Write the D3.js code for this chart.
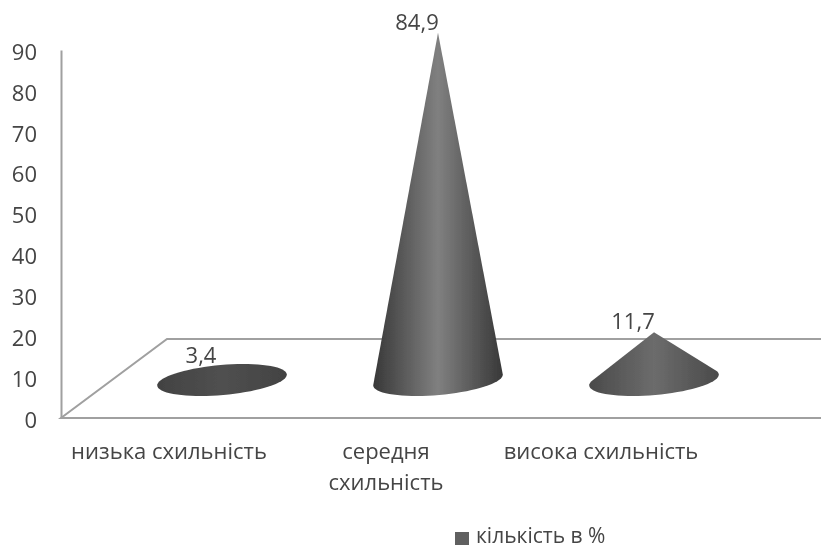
<!DOCTYPE html>
<html>
<head>
<meta charset="utf-8">
<style>
  html, body { margin: 0; padding: 0; background: #fff; }
  svg { display: block; }
  text { font-family: "Open Sans", sans-serif; fill: #444; }
</style>
<script src="https://cdn.jsdelivr.net/npm/d3@7"></script>
</head>
<body>
<script>
// Data
const categories = ['низька схильність', 'середня схильність', 'висока схильність'];
const values = [3.4, 84.9, 11.7];
const valueLabels = ['3,4', '84,9', '11,7'];
const yTicks = [0, 10, 20, 30, 40, 50, 60, 70, 80, 90];
const seriesName = 'кількість в %';
const coneEdge = ['#424242', '#383838', '#4a4a4a'];
const coneMiddle = ['#505050', '#808080', '#6c6c6c'];

const width = 821, height = 549;
const depthX = 53, depthY = 38;   // offset of cones from the front of the floor

const svg = d3.select('body').append('svg')
  .attr('width', width)
  .attr('height', height);

const defs = svg.append('defs');
defs.append('filter').attr('id', 'soft')
  .attr('filterUnits', 'userSpaceOnUse')
  .attr('x', 0).attr('y', 0)
  .attr('width', width).attr('height', height)
  .append('feGaussianBlur').attr('stdDeviation', 0.6);

const chart = svg.append('g').attr('filter', 'url(#soft)');

const x = d3.scaleBand().domain(categories).range([61, 709]);
const y = d3.scaleLinear().domain([0, 90]).range([418, 50]);

// Floor
const floorColor = '#a0a0a0';
const backY = y(0) - depthY * 2 - 3;
chart.append('path')
  .attr('d', d3.line()([[width, backY], [61 + depthX * 2, backY], [61, y(0)], [width, y(0)]]))
  .attr('fill', 'none')
  .attr('stroke', floorColor)
  .attr('stroke-width', 2);

// Y axis
const yAxis = d3.axisLeft(y).tickValues(yTicks).tickSize(0).tickPadding(24).tickFormat(d3.format('d'));
const yG = chart.append('g').attr('transform', 'translate(61,0)').call(yAxis);
yG.select('.domain').attr('stroke', floorColor).attr('stroke-width', 2);
yG.selectAll('text').style('font-size', '22px').attr('dy', '0.42em');

// Cones: hull of the tilted base ellipse and the apex
const rx = 65, ry = 15, tilt = -5 * Math.PI / 180;
function conePoints(d, i) {
  const cx = x(categories[i]) + x.bandwidth() / 2 + depthX;
  const cy = y(0) - depthY;
  const pts = d3.range(72).map(k => {
    const a = k / 72 * 2 * Math.PI;
    const ex = rx * Math.cos(a), ey = ry * Math.sin(a);
    return [cx + ex * Math.cos(tilt) - ey * Math.sin(tilt),
            cy + ex * Math.sin(tilt) + ey * Math.cos(tilt)];
  });
  pts.push([cx, y(d) - depthY]);
  return d3.polygonHull(pts);
}

values.forEach((d, i) => {
  const grad = defs.append('linearGradient').attr('id', 'cone' + i);
  grad.append('stop').attr('offset', '0%').attr('stop-color', coneEdge[i]);
  grad.append('stop').attr('offset', '50%').attr('stop-color', coneMiddle[i]);
  grad.append('stop').attr('offset', '100%').attr('stop-color', coneEdge[i]);
});

const line = d3.line().curve(d3.curveLinearClosed);
chart.selectAll('.cone')
  .data(values)
  .enter().append('path')
  .attr('class', 'cone')
  .attr('d', (d, i) => line(conePoints(d, i)))
  .attr('fill', (d, i) => `url(#cone${i})`);

// Value labels
chart.selectAll('.value')
  .data(values)
  .enter().append('text')
  .attr('class', 'value')
  .attr('x', (d, i) => x(categories[i]) + x.bandwidth() / 2 + depthX - 21)
  .attr('y', d => y(d) - depthY - 3)
  .attr('text-anchor', 'middle')
  .style('font-size', '22px')
  .text((d, i) => valueLabels[i]);

// Category labels, the middle one wraps
const catWrap = [[categories[0]], ['середня', 'схильність'], [categories[2]]];
categories.forEach((c, i) => {
  catWrap[i].forEach((row, r) => {
    chart.append('text')
      .attr('x', x(c) + x.bandwidth() / 2 + (i === 1 ? 1 : 0))
      .attr('y', 459 + r * 31)
      .attr('text-anchor', 'middle')
      .style('font-size', '22px')
      .text(row);
  });
});

// Legend
chart.append('rect')
  .attr('x', 455).attr('y', 532)
  .attr('width', 14).attr('height', 13)
  .attr('fill', '#606060');
chart.append('text')
  .attr('x', 476).attr('y', 542.5)
  .style('font-size', '21px')
  .text(seriesName);
</script>
</body>
</html>
